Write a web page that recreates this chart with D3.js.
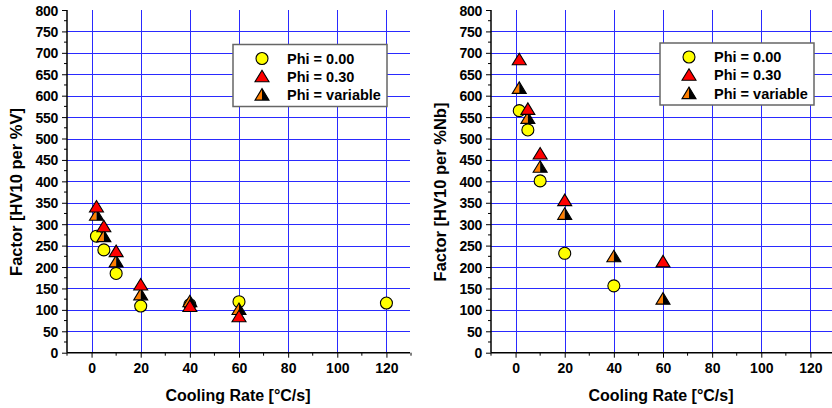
<!DOCTYPE html>
<html>
<head>
<meta charset="utf-8">
<script src="https://cdn.jsdelivr.net/npm/d3@7"></script>
<style>
  body { margin: 0; background: #fff; }
  svg text { font-family: "Liberation Sans", Arial, sans-serif; font-weight: bold; fill: #000; }
</style>
</head>
<body>
<svg id="chart" width="832" height="408"></svg>
<script>
// tick values shared by both panels
const xTicks = [0, 20, 40, 60, 80, 100, 120];
const xMinor = [-10, 10, 30, 50, 70, 90, 110, 130];
const yTicks = d3.range(0, 801, 50);
const yMinor = d3.range(25, 800, 50);

const legendLabels = ["Phi = 0.00", "Phi = 0.30", "Phi = variable"];

// left panel: factor per %V
const vPhi0X = [2, 5, 10, 20, 40, 60, 120];
const vPhi0Y = [272, 240, 185, 109, 112, 119, 116];
const vPhi30X = [2, 5, 10, 20, 40, 60];
const vPhi30Y = [340, 294, 236, 158, 108, 84];
const vPhiVarX = [2, 5, 10, 20, 40, 60];
const vPhiVarY = [321, 271, 212, 135, 119, 101];

// right panel: factor per %Nb
const nbPhi0X = [1.5, 5, 10, 20, 40];
const nbPhi0Y = [565, 520, 401, 232, 156];
const nbPhi30X = [1.5, 5, 10, 20, 60];
const nbPhi30Y = [684, 568, 464, 355, 212];
const nbPhiVarX = [1.5, 5, 10, 20, 40, 60];
const nbPhiVarY = [617, 547, 433, 323, 224, 125];

const svg = d3.select("#chart");
const gridColor = "#2a2aff";

function zip(xs, ys) { return xs.map((x, i) => ({x: x, y: ys[i]})); }

// marker drawers, centered on 0,0
function circleMark(g) {
    g.append("circle").attr("r", 6).attr("fill", "#ffff00")
        .attr("stroke", "#000").attr("stroke-width", 1.1);
}
function redTri(g) {
    g.append("path").attr("d", "M0,-6.5L7,5L-7,5Z").attr("fill", "#ff0000")
        .attr("stroke", "#000").attr("stroke-width", 1.1);
}
function varTri(g) {
    g.append("path").attr("d", "M0,-6.5L0,5L-7,5Z").attr("fill", "#ff7f00");
    g.append("path").attr("d", "M0,-6.5L7,5L0,5Z").attr("fill", "#000");
    g.append("path").attr("d", "M0,-6.5L7,5L-7,5Z").attr("fill", "none")
        .attr("stroke", "#000").attr("stroke-width", 1.1);
}

function drawPanel(p) {
    let x = d3.scaleLinear().domain([-10, 130]).range([p.left, p.left + 344]);
    let y = d3.scaleLinear().domain([0, 800]).range([352.7, 10]);
    let g = svg.append("g");

    // grid
    g.append("g").selectAll("line").data(yTicks.slice(1, -1)).join("line")
        .attr("x1", p.left).attr("x2", p.right)
        .attr("y1", d => Math.round(y(d)) + 0.5).attr("y2", d => Math.round(y(d)) + 0.5)
        .attr("stroke", gridColor).attr("stroke-width", 1);
    g.append("g").selectAll("line").data(xTicks).join("line")
        .attr("x1", d => Math.round(x(d)) + 0.5).attr("x2", d => Math.round(x(d)) + 0.5)
        .attr("y1", y(800)).attr("y2", y(0))
        .attr("stroke", gridColor).attr("stroke-width", 1);

    // axes
    let xAxis = d3.axisBottom(x).tickValues(xTicks).tickSize(5).tickPadding(5);
    let gx = g.append("g").attr("transform", "translate(0," + y(0) + ")").call(xAxis);
    gx.select(".domain").attr("d", "M" + p.left + ",0H" + p.right).attr("stroke-width", 1.5);
    gx.selectAll("text").style("font-size", "14px");
    gx.append("g").selectAll("line").data(xMinor).join("line")
        .attr("x1", d => x(d)).attr("x2", d => x(d)).attr("y1", 0).attr("y2", 3)
        .attr("stroke", "#000");

    let yAxis = d3.axisLeft(y).tickValues(yTicks).tickSize(5).tickPadding(4);
    let gy = g.append("g").attr("transform", "translate(" + p.left + ",0)").call(yAxis);
    gy.select(".domain").attr("d", "M0," + y(0) + "V" + y(800)).attr("stroke-width", 1.5);
    gy.selectAll("text").style("font-size", "14px").style("letter-spacing", "-0.3px").attr("dy", "0.36em");
    gy.append("g").selectAll("line").data(yMinor).join("line")
        .attr("x1", -3).attr("x2", 0).attr("y1", d => y(d)).attr("y2", d => y(d))
        .attr("stroke", "#000");

    // titles
    g.append("text").attr("x", p.xTitleX).attr("y", 401).attr("text-anchor", "middle")
        .style("font-size", "16px").text("Cooling Rate [\u00b0C/s]");
    g.append("text").attr("transform", "translate(" + p.yTitleX + ",192) rotate(-90)")
        .attr("text-anchor", "middle").style("font-size", "16.5px").text(p.yTitle);

    // markers
    let series = [
        {data: zip(p.phi0X, p.phi0Y), mark: circleMark},
        {data: zip(p.varX, p.varY), mark: varTri},
        {data: zip(p.phi30X, p.phi30Y), mark: redTri}
    ];
    series.forEach(function (s) {
        g.append("g").selectAll("g").data(s.data).join("g")
            .attr("transform", d => "translate(" + x(d.x) + "," + y(d.y) + ")")
            .each(function () { s.mark(d3.select(this)); });
    });

    // legend
    let lg = g.append("g").attr("transform", "translate(" + p.leg[0] + "," + p.leg[1] + ")");
    lg.append("rect").attr("x", 0).attr("y", 0).attr("width", 154).attr("height", 62)
        .attr("fill", "#fff").attr("stroke", "#666").attr("stroke-width", 1.5);
    let marks = [circleMark, redTri, varTri];
    legendLabels.forEach(function (lab, i) {
        let row = lg.append("g").attr("transform", "translate(0," + (14 + i * 18.3) + ")");
        let m = row.append("g").attr("transform", "translate(29,0)");
        marks[i](m);
        row.append("text").attr("x", 54).attr("y", 5).style("font-size", "14.5px").text(lab);
    });
}

drawPanel({
    left: 67, right: 410, xTitleX: 238, yTitleX: 22, yTitle: "Factor [HV10 per %V]",
    phi0X: vPhi0X, phi0Y: vPhi0Y, phi30X: vPhi30X, phi30Y: vPhi30Y, varX: vPhiVarX, varY: vPhiVarY,
    leg: [233, 44.5]
});
drawPanel({
    left: 491, right: 832, xTitleX: 661, yTitleX: 446, yTitle: "Factor [HV10 per %Nb]",
    phi0X: nbPhi0X, phi0Y: nbPhi0Y, phi30X: nbPhi30X, phi30Y: nbPhi30Y, varX: nbPhiVarX, varY: nbPhiVarY,
    leg: [660, 43]
});
</script>
</body>
</html>
